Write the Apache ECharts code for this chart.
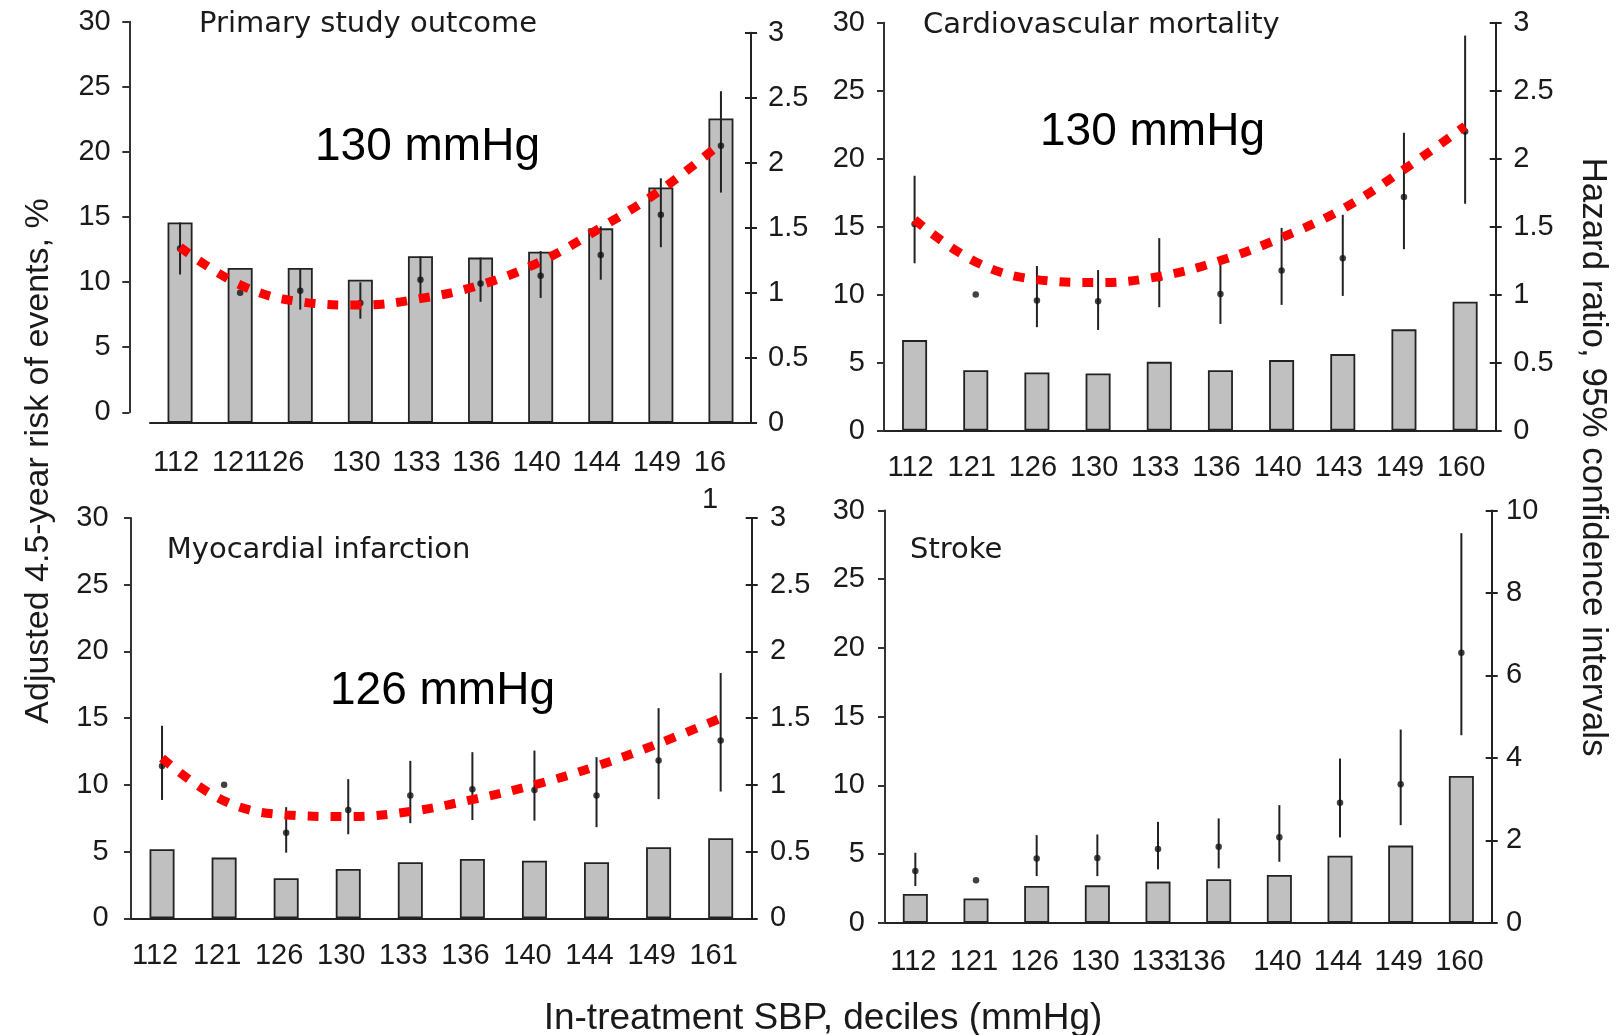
<!DOCTYPE html>
<html>
<head>
<meta charset="utf-8">
<script src="https://cdn.jsdelivr.net/npm/echarts@6/dist/echarts.min.js"></script>
<style>
  html, body { margin: 0; background: #fff; }
  #chart { width: 1617px; height: 1035px; }
</style>
</head>
<body>
<div id="chart"></div>
<script>
// in-treatment SBP deciles (mmHg) per panel
const sbpPrimary = ['112', '121', '126', '130', '133', '136', '140', '144', '149', '161']
const sbpCv = ['112', '121', '126', '130', '133', '136', '140', '143', '149', '160']
const sbpMi = ['112', '121', '126', '130', '133', '136', '140', '144', '149', '161']
const sbpStroke = ['112', '121', '126', '130', '133', '136', '140', '144', '149', '160']
// tick labels as printed (the last one wraps in the first panel)
const labelsPrimary = ['112', '121', '126', '130', '133', '136', '140', '144', '149', '16\n1']

// adjusted 4.5-year risk of events, % (bars)
const riskPrimary = [15.4, 11.9, 11.9, 11.0, 12.8, 12.7, 13.15, 14.95, 18.1, 23.4]
const riskCv = [6.65, 4.44, 4.27, 4.2, 5.05, 4.44, 5.18, 5.62, 7.44, 9.47]
const riskMi = [5.18, 4.55, 3.0, 3.7, 4.2, 4.45, 4.32, 4.2, 5.33, 6.0]
const riskStroke = [2.09, 1.77, 2.67, 2.72, 2.99, 3.16, 3.47, 4.88, 5.61, 10.68]

// hazard ratios and 95% CI (121 mmHg is the reference)
const hrPrimary = [1.34, 1.0, 1.015, 0.92, 1.10, 1.07, 1.13, 1.29, 1.60, 2.13]
const loPrimary = [1.14, null, 0.87, 0.80, 0.94, 0.93, 0.96, 1.10, 1.35, 1.77]
const hiPrimary = [1.54, null, 1.19, 1.08, 1.28, 1.27, 1.32, 1.51, 1.88, 2.55]

const hrCv = [1.52, 1.0, 0.956, 0.95, 1.12, 1.005, 1.177, 1.268, 1.717, 2.2]
const loCv = [1.23, null, 0.76, 0.74, 0.907, 0.784, 0.924, 0.99, 1.334, 1.668]
const hiCv = [1.874, null, 1.21, 1.18, 1.415, 1.27, 1.49, 1.587, 2.19, 2.905]

const hrMi = [1.142, 1.0, 0.642, 0.812, 0.92, 0.968, 0.962, 0.92, 1.182, 1.332]
const loMi = [0.887, null, 0.492, 0.63, 0.713, 0.737, 0.732, 0.683, 0.893, 0.95]
const hiMi = [1.443, null, 0.833, 1.043, 1.18, 1.245, 1.257, 1.208, 1.575, 1.838]

const hrStroke = [1.253, 1.03, 1.56, 1.57, 1.786, 1.842, 2.07, 2.908, 3.361, 6.552]
const loStroke = [0.889, null, 1.13, 1.13, 1.294, 1.318, 1.478, 2.069, 2.367, 4.548]
const hiStroke = [1.697, null, 2.125, 2.14, 2.447, 2.53, 2.852, 3.983, 4.686, 9.45]

// fitted curve (red dotted)
const fitPrimary = [1.35, 1.06, 0.93, 0.905, 0.955, 1.06, 1.24, 1.50, 1.79, 2.15]
const fitCv = [1.55, 1.24, 1.11, 1.088, 1.133, 1.25, 1.42, 1.63, 1.92, 2.24]
const fitMi = [1.2, 0.88, 0.775, 0.762, 0.80, 0.89, 1.0, 1.14, 1.31, 1.5]

const SANS = '"Liberation Sans", Arial, sans-serif'
const INK = '#1a1a1a'
const TICK_FONT = 29

const panels = [
  {
    cats: sbpPrimary, labels: labelsPrimary, risk: riskPrimary, hr: hrPrimary, lo: loPrimary, hi: hiPrimary, fit: fitPrimary,
    hrMax: 3, hrStep: 0.5,
    box: { left: 150, top: 32.7, width: 601, height: 390 },
    leftBox: { left: 129.3, top: 21.7, height: 390.6 },
    shift: -4, shifts: { 2: -20, 9: -11 }, margin: 22, lineHeight: 37, leftMargin: 18.6, rightMargin: 17
  },
  {
    cats: sbpCv, labels: sbpCv, risk: riskCv, hr: hrCv, lo: loCv, hi: hiCv, fit: fitCv,
    hrMax: 3, hrStep: 0.5,
    box: { left: 884, top: 22.7, width: 611.7, height: 407.8 },
    shift: -4, shifts: {}, margin: 23, leftMargin: 19, rightMargin: 17.6
  },
  {
    cats: sbpMi, labels: sbpMi, risk: riskMi, hr: hrMi, lo: loMi, hi: hiMi, fit: fitMi,
    hrMax: 3, hrStep: 0.5,
    box: { left: 131, top: 518, width: 620.7, height: 400.3 },
    shift: -7, shifts: {}, margin: 23, leftMargin: 22.4, rightMargin: 18.3
  },
  {
    cats: sbpStroke, labels: sbpStroke, risk: riskStroke, hr: hrStroke, lo: loStroke, hi: hiStroke, fit: null,
    hrMax: 10, hrStep: 2,
    box: { left: 885, top: 510.5, width: 606.7, height: 412.2 },
    shift: -2, shifts: { 5: -17 }, margin: 25, leftMargin: 20, rightMargin: 14.3
  }
]

const grid = []
const xAxis = []
const yAxis = []
const series = []

panels.forEach((p, i) => {
  const lb = p.leftBox || { left: p.box.left, top: p.box.top, height: p.box.height }
  grid.push(p.box)
  grid.push({ left: lb.left, top: lb.top, width: 10, height: lb.height })
  const g = 2 * i

  xAxis.push({
    type: 'category',
    gridIndex: g,
    data: p.cats.map((c, k) => {
      const s = p.shifts[k] !== undefined ? p.shifts[k] : p.shift
      return { value: c, textStyle: { padding: s < 0 ? [0, -2 * s, 0, 0] : [0, 0, 0, 2 * s] } }
    }),
    axisLine: { onZero: false, lineStyle: { color: '#222', width: 2 } },
    axisTick: { length: 7, lineStyle: { color: '#222', width: 2 } },
    axisLabel: {
      interval: 0,
      margin: p.margin,
      fontSize: TICK_FONT,
      fontFamily: SANS,
      color: INK,
      lineHeight: p.lineHeight,
      formatter: (v, idx) => p.labels[idx]
    }
  })
  xAxis.push({ type: 'category', gridIndex: g + 1, data: [], show: false })

  const hrIndex = yAxis.length
  yAxis.push({
    type: 'value', gridIndex: g, position: 'right', min: 0, max: p.hrMax, interval: p.hrStep,
    splitLine: { show: false },
    axisLine: { show: true, onZero: false, lineStyle: { color: '#222', width: 2 } },
    axisTick: { show: true, length: 6, lineStyle: { color: '#222', width: 2 } },
    axisLabel: { margin: p.rightMargin, fontSize: TICK_FONT, fontFamily: SANS, color: INK }
  })
  // inner half of the cross ticks
  yAxis.push({
    type: 'value', gridIndex: g, position: 'right', min: 0, max: p.hrMax, interval: p.hrStep,
    splitLine: { show: false },
    axisLine: { show: false },
    axisTick: { show: true, inside: true, length: 6, lineStyle: { color: '#222', width: 2 } },
    axisLabel: { show: false }
  })
  const barIndex = yAxis.length
  yAxis.push({ type: 'value', gridIndex: g, min: 0, max: 30, show: false })
  // visible risk axis
  yAxis.push({
    type: 'value', gridIndex: g + 1, position: 'left', min: 0, max: 30, interval: 5,
    splitLine: { show: false },
    axisLine: { show: true, onZero: false, lineStyle: { color: '#333', width: 2 } },
    axisTick: { show: true, length: 7, lineStyle: { color: '#333', width: 2 } },
    axisLabel: { margin: p.leftMargin, fontSize: TICK_FONT, fontFamily: SANS, color: INK }
  })

  series.push({
    type: 'bar',
    xAxisIndex: g,
    yAxisIndex: barIndex,
    data: p.risk,
    barWidth: 25,
    z: 2,
    itemStyle: { color: '#c0c0c0', borderColor: '#222', borderWidth: 1.8 },
    silent: true
  })

  const ci = p.cats.map((c, k) => (p.lo[k] == null ? null : [k, p.lo[k], p.hi[k]])).filter(Boolean)
  series.push({
    type: 'custom',
    xAxisIndex: g,
    yAxisIndex: hrIndex,
    z: 3,
    encode: { x: 0, y: [1, 2] },
    data: ci,
    renderItem: (params, api) => {
      const a = api.coord([api.value(0), api.value(1)])
      const b = api.coord([api.value(0), api.value(2)])
      return {
        type: 'line',
        shape: { x1: a[0], y1: a[1], x2: b[0], y2: b[1] },
        style: { stroke: '#222', lineWidth: 2 }
      }
    }
  })

  series.push({
    type: 'scatter',
    xAxisIndex: g,
    yAxisIndex: hrIndex,
    z: 4,
    data: p.hr,
    symbolSize: 6.5,
    itemStyle: { color: '#111' }
  })

  if (p.fit) {
    series.push({
      type: 'line',
      xAxisIndex: g,
      yAxisIndex: hrIndex,
      z: 5,
      data: p.fit,
      smooth: 0.4,
      symbol: 'none',
      lineStyle: { color: '#ff0000', width: 9, type: [11, 12], cap: 'butt' }
    })
  }
})

const panelTitles = [
  { text: 'Primary study outcome', x: 199, y: 24.7 },
  { text: 'Cardiovascular mortality', x: 923, y: 25 },
  { text: 'Myocardial infarction', x: 166.7, y: 550.5 },
  { text: 'Stroke', x: 910, y: 550.5 }
]
const optimumNotes = [
  { text: '130 mmHg', x: 315, y: 147.5 },
  { text: '130 mmHg', x: 1040, y: 132 },
  { text: '126 mmHg', x: 330, y: 691 }
]

const graphic = []
panelTitles.forEach(t => {
  graphic.push({
    type: 'text', x: t.x, y: t.y,
    style: { text: t.text, fontSize: 29, fontFamily: '"DejaVu Sans", sans-serif', fill: INK, verticalAlign: 'middle' }
  })
})
optimumNotes.forEach(t => {
  graphic.push({
    type: 'text', x: t.x, y: t.y,
    style: { text: t.text, fontSize: 46, fontFamily: SANS, fill: '#000', verticalAlign: 'middle' }
  })
})
graphic.push({
  type: 'text', x: 39, y: 461, rotation: Math.PI / 2,
  style: { text: 'Adjusted 4.5-year risk of events, %', fontSize: 34, fontFamily: SANS, fill: INK, align: 'center', verticalAlign: 'middle' }
})
graphic.push({
  type: 'text', x: 1593, y: 457, rotation: -Math.PI / 2,
  style: { text: 'Hazard ratio, 95% confidence intervals', fontSize: 35, fontFamily: SANS, fill: INK, align: 'center', verticalAlign: 'middle' }
})
graphic.push({
  type: 'text', x: 823, y: 1019,
  style: { text: 'In-treatment SBP, deciles (mmHg)', fontSize: 37, fontFamily: SANS, fill: INK, align: 'center', verticalAlign: 'middle' }
})

const chart = echarts.init(document.getElementById('chart'))
chart.setOption({
  backgroundColor: '#fff',
  animation: false,
  grid,
  xAxis,
  yAxis,
  series,
  graphic
})
</script>
</body>
</html>
